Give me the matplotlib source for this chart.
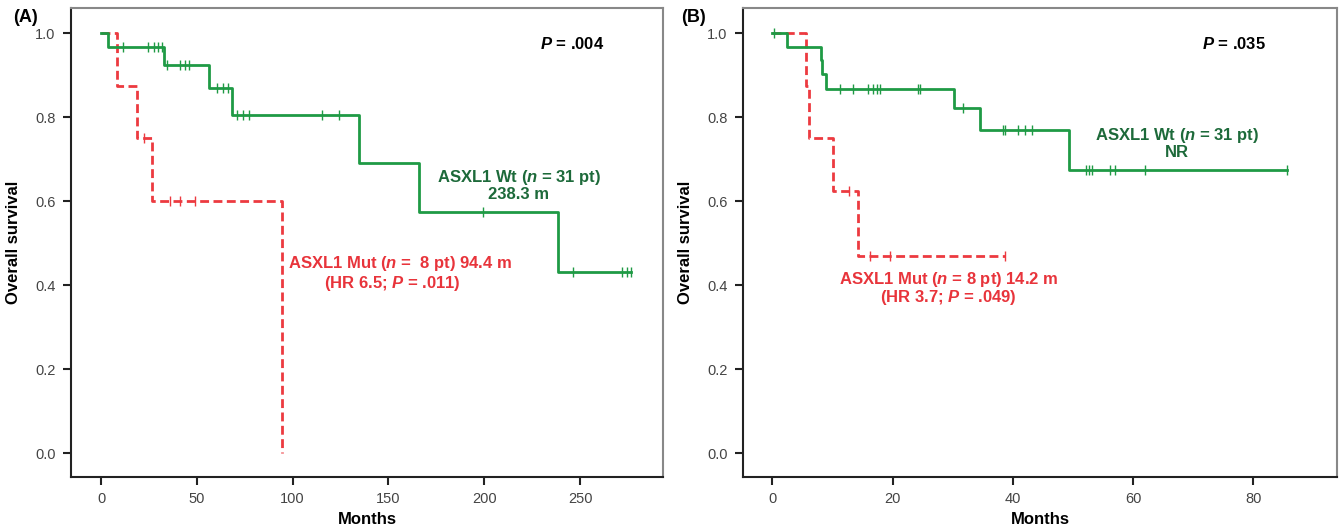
import numpy as np
import matplotlib
matplotlib.use("Agg")
import matplotlib.pyplot as plt

plt.rcParams['font.family'] = ['Liberation Sans', 'DejaVu Sans']
plt.rcParams['mathtext.fontset'] = 'custom'
plt.rcParams['mathtext.rm'] = 'Liberation Sans:bold'
plt.rcParams['mathtext.bf'] = 'Liberation Sans:bold'
plt.rcParams['mathtext.it'] = 'Liberation Sans:italic:bold'
plt.rcParams['mathtext.bfit'] = 'Liberation Sans:italic:bold'

# ---------------- data ----------------
# Panel A
wtA_times = [0, 3.7, 32.6, 56.4, 68.2, 134.7, 166.0, 238.5, 276.5]
wtA_surv = [1.0, 0.968, 0.925, 0.870, 0.805, 0.690, 0.575, 0.431, 0.431]
wtA_censor = [11.6, 24.7, 27.7, 29.9, 32.0, 34.4, 41.2, 43.8, 46.0, 60.5, 63.6,
              66.3, 71.0, 74.0, 77.0, 115.3, 124.2, 199.4, 246.5, 272.0, 274.5, 276.5]
mutA_times = [0, 8.4, 18.7, 26.8, 94.4]
mutA_surv = [1.0, 0.875, 0.75, 0.60, 0.0]
mutA_censor = [22.4, 36.0, 41.0, 49.0]

# Panel B
wtB_times = [0, 2.4, 8.0, 8.3, 8.9, 30.2, 34.6, 49.3, 85.6]
wtB_surv = [1.0, 0.968, 0.935, 0.902, 0.868, 0.821, 0.769, 0.674, 0.674]
wtB_censor = [0.3, 11.2, 13.4, 15.9, 16.8, 17.4, 17.9, 24.2, 24.6, 31.7, 38.3, 38.6,
              40.8, 42.0, 43.1, 52.1, 52.7, 53.2, 56.1, 56.9, 62.0, 85.6]
mutB_times = [0, 5.5, 6.0, 10.0, 14.2, 38.6]
mutB_surv = [1.0, 0.875, 0.75, 0.625, 0.469, 0.469]
mutB_censor = [12.7, 16.2, 19.6, 38.6]

xticksA = [0, 50, 100, 150, 200, 250]
xticksB = [0, 20, 40, 60, 80]
yticks = [0.0, 0.2, 0.4, 0.6, 0.8, 1.0]

GREEN = '#1f9a45'
GREEN_TXT = '#1d6a3a'
RED = '#ec3a40'
RED_TXT = '#e8343b'
FS = 12

fig = plt.figure(figsize=(13.41, 5.28), dpi=100)
axA = fig.add_axes([71/1341, 1-477/528, 592/1341, 469/528])
axB = fig.add_axes([743/1341, 1-477/528, 594/1341, 469/528])


def surv_at(times, surv, t):
    idx = np.searchsorted(times, t, side='right') - 1
    return np.asarray(surv)[idx]


def draw_km(ax, times, surv, censor, color, dashed=False):
    if dashed:
        ax.step(times, surv, where='post', color=color, lw=2.0,
                linestyle=(0, (3.2, 1.6)), zorder=3)
    else:
        ax.step(times, surv, where='post', color=color, lw=2.0, zorder=3)
    c = np.asarray(censor)
    ax.plot(c, surv_at(times, surv, c), linestyle='none', marker='|',
            markersize=7, markeredgewidth=1.0, color=color, zorder=4)


def style(ax, xticks, xlim):
    ax.set_xlim(*xlim)
    ax.set_ylim(-0.057, 1.06)
    ax.set_xticks(xticks)
    ax.set_yticks(yticks)
    ax.set_yticklabels([f"{v:.1f}" for v in yticks])
    for lab in ax.get_xticklabels() + ax.get_yticklabels():
        lab.set_family(['Liberation Sans Narrow', 'Liberation Sans', 'DejaVu Sans'])
        lab.set_fontsize(10.5)
        lab.set_color('#444444')
    ax.tick_params(direction='out', length=6, width=1.5, color='#222222', pad=5)
    for s in ['left', 'bottom']:
        ax.spines[s].set_color('#222222')
        ax.spines[s].set_linewidth(1.5)
    for s in ['top', 'right']:
        ax.spines[s].set_color('#888888')
        ax.spines[s].set_linewidth(1.5)
    ax.set_xlabel('Months', fontsize=12, fontweight='bold', labelpad=4)
    ax.set_ylabel('Overall survival', fontsize=12, fontweight='bold', labelpad=10)


# Panel A
draw_km(axA, mutA_times, mutA_surv, mutA_censor, RED, dashed=True)
draw_km(axA, wtA_times, wtA_surv, wtA_censor, GREEN)
style(axA, xticksA, (-15.7, 293.3))
axA.text(246, 0.974, r'$\mathbfit{P}$ = .004', ha='center', va='center',
         fontsize=FS, fontweight='bold', color='black')
axA.text(218, 0.657, r'ASXL1 Wt ($\mathbfit{n}$ = 31 pt)', ha='center', va='center',
         fontsize=FS, fontweight='bold', color=GREEN_TXT)
axA.text(218, 0.615, '238.3 m', ha='center', va='center',
         fontsize=FS, fontweight='bold', color=GREEN_TXT)
axA.text(156, 0.452, r'ASXL1 Mut ($\mathbfit{n}$ =  8 pt) 94.4 m', ha='center', va='center',
         fontsize=FS, fontweight='bold', color=RED_TXT)
axA.text(152, 0.404, r'(HR 6.5; $\mathbfit{P}$ = .011)', ha='center', va='center',
         fontsize=FS, fontweight='bold', color=RED_TXT)

# Panel B
draw_km(axB, mutB_times, mutB_surv, mutB_censor, RED, dashed=True)
draw_km(axB, wtB_times, wtB_surv, wtB_censor, GREEN)
style(axB, xticksB, (-4.9, 93.9))
axB.text(76.8, 0.974, r'$\mathbfit{P}$ = .035', ha='center', va='center',
         fontsize=FS, fontweight='bold', color='black')
axB.text(67.3, 0.756, r'ASXL1 Wt ($\mathbfit{n}$ = 31 pt)', ha='center', va='center',
         fontsize=FS, fontweight='bold', color=GREEN_TXT)
axB.text(67.3, 0.716, 'NR', ha='center', va='center',
         fontsize=FS, fontweight='bold', color=GREEN_TXT)
axB.text(29.3, 0.414, r'ASXL1 Mut ($\mathbfit{n}$ = 8 pt) 14.2 m', ha='center', va='center',
         fontsize=FS, fontweight='bold', color=RED_TXT)
axB.text(29.3, 0.370, r'(HR 3.7; $\mathbfit{P}$ = .049)', ha='center', va='center',
         fontsize=FS, fontweight='bold', color=RED_TXT)

fig.text(26/1341, 1-18/528, '(A)', fontsize=13, fontweight='bold', ha='center', va='center')
fig.text(694/1341, 1-18/528, '(B)', fontsize=13, fontweight='bold', ha='center', va='center')

fig.savefig('out.png', dpi=100)
